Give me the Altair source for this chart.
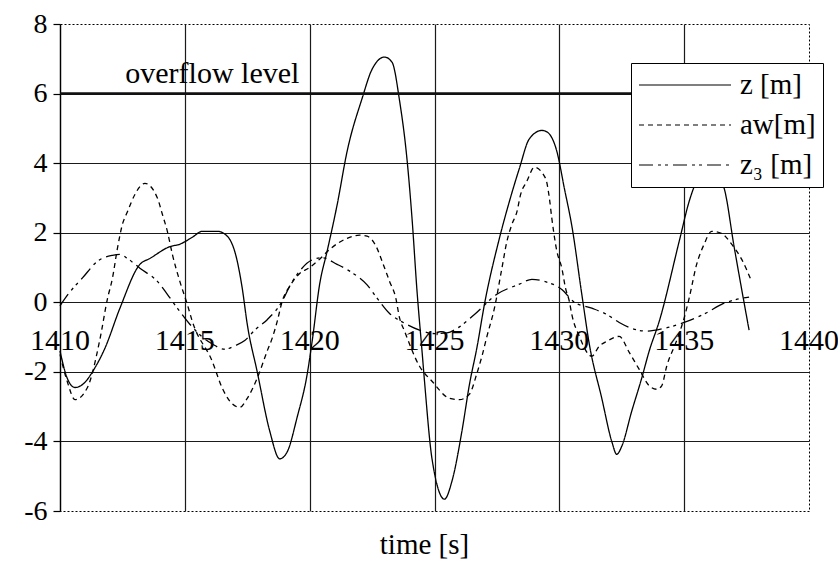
import altair as alt
import pandas as pd

# ---- data ----
z_time = [1410.0, 1410.3, 1410.6, 1411.0, 1411.3, 1411.8, 1412.4, 1413.2, 1413.6, 1414.4, 1414.8,
          1415.3, 1415.7, 1416.3, 1416.7, 1417.1, 1417.3, 1417.5, 1417.9, 1418.4, 1418.8, 1419.1,
          1419.5, 1419.9, 1420.1, 1420.4, 1420.7, 1421.1, 1421.5, 1422.1, 1422.5, 1423.0, 1423.3,
          1423.6, 1423.9, 1424.1, 1424.3, 1424.5, 1424.6, 1424.9, 1425.4, 1425.7, 1426.1, 1426.4,
          1426.7, 1427.0, 1427.6, 1428.0, 1428.4, 1428.8, 1429.3, 1429.5, 1429.9, 1430.2, 1430.5,
          1430.9, 1431.2, 1431.7, 1432.1, 1432.3, 1432.5, 1432.9, 1433.3, 1433.6, 1434.0, 1434.8,
          1435.2, 1435.5, 1436.0, 1436.6, 1437.0, 1437.6]
z_values = [-1.4, -2.2, -2.45, -2.3, -2.0, -1.32, -0.17, 1.09, 1.26, 1.6, 1.67,
            1.87, 2.04, 2.04, 1.9, 1.18, 0.4, -0.63, -2.0, -3.7, -4.5, -4.3,
            -3.3, -2.07, -1.12, 0.52, 1.47, 2.8, 4.34, 5.86, 6.7, 7.05, 6.9,
            5.8, 4.1, 2.41, 0.32, -1.4, -2.27, -4.5, -5.66, -5.14, -3.7, -2.36,
            -1.3, -0.06, 1.84, 2.9, 3.85, 4.7, 4.94, 4.9, 4.34, 3.28, 2.2,
            0.23, -1.2, -2.76, -4.0, -4.37, -4.14, -3.13, -2.18, -1.4, -0.55, 1.75,
            2.9, 3.5, 4.0, 3.28, 1.6, -0.8]

aw_time = [1410.0, 1410.3, 1410.6, 1411.1, 1411.6, 1411.9, 1412.1, 1412.3, 1412.5, 1412.7, 1413.0,
           1413.4, 1413.9, 1414.1, 1414.3, 1414.5, 1414.8, 1415.1, 1415.3, 1416.1, 1416.5, 1416.8,
           1417.2, 1417.5, 1417.9, 1418.3, 1418.5, 1418.7, 1418.9, 1419.2, 1419.6, 1420.0, 1420.4,
           1420.8, 1421.5, 1422.0, 1422.3, 1422.7, 1422.9, 1423.2, 1423.45, 1423.6, 1423.8, 1424.4,
           1424.9, 1425.6, 1426.0, 1426.4, 1426.7, 1426.9, 1427.1, 1427.4, 1427.7, 1427.9, 1428.1,
           1428.3, 1428.45, 1428.7, 1429.0, 1429.45, 1429.6, 1429.7, 1429.9, 1430.1, 1430.25, 1430.4,
           1430.5, 1430.8, 1431.3, 1431.6, 1431.9, 1432.4, 1432.8, 1433.2, 1433.6, 1433.9, 1434.1,
           1434.3, 1434.7, 1435.0, 1435.2, 1435.5, 1435.8, 1436.1, 1436.5, 1436.9, 1437.3, 1437.7]
aw_values = [-1.5, -2.3, -2.8, -2.45, -1.06, 0.1, 0.69, 1.55, 2.24, 2.6, 3.1,
             3.42, 3.0, 2.53, 2.04, 1.38, 0.6, -0.06, -0.55, -1.7, -2.47, -2.84,
             -3.02, -2.76, -2.18, -1.4, -1.03, -0.55, 0.03, 0.46, 0.83, 1.0, 1.24,
             1.52, 1.84, 1.93, 1.9, 1.55, 1.18, 0.6, 0.12, -0.45, -0.83, -1.84,
             -2.27, -2.76, -2.8, -2.64, -2.04, -1.55, -0.98, -0.17, 0.98, 1.75, 2.24,
             2.6, 3.1, 3.48, 3.88, 3.56, 3.0, 2.41, 1.47, 0.98, 0.4, 0.03,
             -0.35, -0.98, -1.55, -1.26, -1.12, -0.98, -1.44, -1.93, -2.4, -2.5, -2.4,
             -1.84, -1.1, -0.45, 0.12, 1.09, 1.67, 2.04, 1.98, 1.67, 1.24, 0.6]

z3_time = [1410.0, 1410.4, 1410.9, 1411.5, 1412.1, 1412.4, 1412.7, 1413.2, 1413.9, 1414.3, 1414.7,
           1415.2, 1415.7, 1416.1, 1416.6, 1417.0, 1417.4, 1417.8, 1418.3, 1418.9, 1419.2, 1419.6,
           1420.1, 1420.5, 1421.1, 1421.7, 1422.3, 1422.7, 1423.2, 1423.8, 1424.4, 1425.0, 1425.5,
           1425.9, 1426.6, 1427.5, 1428.4, 1428.9, 1429.4, 1430.1, 1430.6, 1431.3, 1431.9, 1432.4,
           1432.9, 1433.5, 1434.2, 1435.0, 1435.9, 1436.5, 1437.2, 1437.6]
z3_values = [-0.1, 0.3, 0.7, 1.18, 1.35, 1.38, 1.26, 0.98, 0.6, 0.23, -0.17,
             -0.63, -1.0, -1.2, -1.35, -1.25, -1.1, -0.8, -0.5, 0.03, 0.46, 0.9,
             1.22, 1.28, 1.09, 0.85, 0.5, 0.12, -0.32, -0.6, -0.8, -0.9, -0.88,
             -0.75, -0.35, 0.23, 0.52, 0.66, 0.6, 0.37, 0.0, -0.17, -0.35, -0.58,
             -0.75, -0.83, -0.75, -0.58, -0.3, -0.06, 0.1, 0.15]

series_names = ["z [m]", "a\u1d21[m]", "z\u2083 [m]"]
x_ticks = [1410, 1415, 1420, 1425, 1430, 1435, 1440]
y_ticks = [-6, -4, -2, 0, 2, 4, 6, 8]
overflow_level = [6]
overflow_label = ["overflow level"]
overflow_label_time = [1416.1]
overflow_label_value = [6.3]

FONT = "Liberation Serif"

rows = []
for name, ts, vs in zip(series_names, [z_time, aw_time, z3_time], [z_values, aw_values, z3_values]):
    for t, v in zip(ts, vs):
        rows.append({"time": t, "value": v, "series": name})
df = pd.DataFrame(rows)

xscale = alt.Scale(domain=[1410, 1440], nice=False, zero=False)
yscale = alt.Scale(domain=[-6, 8], nice=False, zero=False)

lines = alt.Chart(df).mark_line(color="black", strokeWidth=1.3, interpolate="monotone").encode(
    x=alt.X("time:Q", scale=xscale,
            axis=alt.Axis(values=x_ticks, labels=False, ticks=False, domain=False,
                          grid=True, gridColor="#1a1a1a", gridWidth=1.2,
                          gridOpacity={"condition": {"test": "datum.value == 1440", "value": 0}, "value": 1},
                          title="time [s]", titleFont=FONT, titleFontSize=29,
                          titleFontWeight="normal", titleColor="black", titlePadding=19,
                          titleX=364, titleAlign="center")),
    y=alt.Y("value:Q", scale=yscale,
            axis=alt.Axis(values=y_ticks, grid=True, gridColor="#1a1a1a", gridWidth=1.2,
                          gridOpacity={"condition": {"test": "datum.value == 8 || datum.value == -6", "value": 0}, "value": 1},
                          domain=True, domainColor="black", domainWidth=1.3,
                          ticks=True, tickColor="black", tickSize=7, tickWidth=1.2,
                          labelExpr="datum.value + ''",
                          labelFont=FONT, labelFontSize=28, labelColor="black", labelPadding=6,
                          labelFlush=False, title=None)),
    strokeDash=alt.StrokeDash("series:N",
                              scale=alt.Scale(domain=series_names,
                                              range=[[1, 0], [5, 4], [14, 5, 3, 4, 3, 5]]),
                              legend=alt.Legend(orient="none", legendX=571, legendY=39, title=None,
                                                symbolType="stroke", symbolSize=8464,
                                                symbolStrokeWidth=1.2, symbolStrokeColor="black",
                                                clipHeight=30, rowPadding=10, padding=7,
                                                labelFont=FONT, labelFontSize=29, labelColor="black",
                                                labelOffset=8, strokeColor="black",
                                                fillColor="white", labelLimit=200)),
)

over_df = pd.DataFrame({"level": overflow_level})
over_rule = alt.Chart(over_df).mark_rule(color="#111", strokeWidth=2.6).encode(y=alt.Y("level:Q", scale=yscale))

lab_df = pd.DataFrame({"t": overflow_label_time, "v": overflow_label_value, "txt": overflow_label})
over_text = alt.Chart(lab_df).mark_text(font=FONT, fontSize=30, color="black", align="center",
                                        baseline="alphabetic").encode(
    x=alt.X("t:Q", scale=xscale), y=alt.Y("v:Q", scale=yscale), text="txt:N")

tick_df = pd.DataFrame({"t": x_ticks, "v": [0] * len(x_ticks), "txt": [str(t) for t in x_ticks]})
tick_text = alt.Chart(tick_df).mark_text(font=FONT, fontSize=30, color="black", align="center",
                                         baseline="alphabetic", dy=48).encode(
    x=alt.X("t:Q", scale=xscale), y=alt.Y("v:Q", scale=yscale), text="txt:N")

chart = alt.layer(lines, over_rule, over_text, tick_text).properties(
    width=749, height=487,
    padding={"left": 60, "top": 24, "right": 29, "bottom": 67},
    autosize="none",
    background="white",
).configure_view(stroke="black", strokeDash=[2, 2], strokeWidth=1)

chart.save("out.html", embed_options={"renderer": "svg", "actions": False})
